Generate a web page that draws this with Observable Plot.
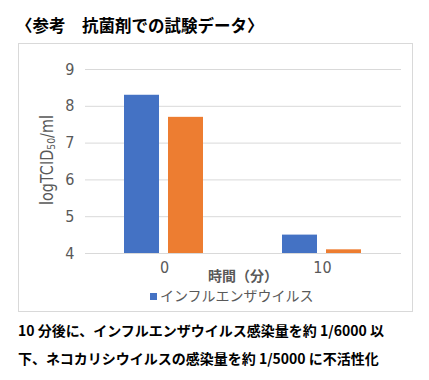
<!DOCTYPE html>
<html>
<head>
<meta charset="utf-8">
<script src="https://cdn.jsdelivr.net/npm/d3@7"></script>
<script src="https://cdn.jsdelivr.net/npm/@observablehq/plot@0.6"></script>
<style>
  html, body { margin: 0; padding: 0; background: #fff; }
  body { width: 429px; height: 380px; position: relative; overflow: hidden; font-family: "Noto Sans CJK JP", sans-serif; }
  #title { position: absolute; left: 16px; top: 12px; font-size: 16.5px; font-weight: bold; color: #000; line-height: 26px; white-space: nowrap; }
  #box { position: absolute; left: 18px; top: 43px; width: 393px; height: 267px; border: 1px solid #d9d9d9; }
  #box svg { display: block; }
  .cap { position: absolute; left: 18px; font-size: 14px; font-weight: bold; color: #000; white-space: nowrap; line-height: 20px; }
</style>
</head>
<body>
<div id="title">〈参考　抗菌剤での試験データ〉</div>
<div id="box"></div>
<div class="cap" style="top:320px">10 分後に、インフルエンザウイルス感染量を約 1/6000 以</div>
<div class="cap" style="top:348px">下、ネコカリシウイルスの感染量を約 1/5000 に不活性化</div>
<script>
const times = ["0", "10"];
const seriesNames = ["インフルエンザウイルス", "ネコカリシウイルス"];
const influenza = [8.3, 4.5];
const calici = [7.7, 4.1];
const colors = ["#4472C4", "#ED7D31"];
const yTicks = [4, 5, 6, 7, 8, 9];
const yBase = 4;
const xTitle = "時間（分）";

const data = [];
times.forEach((t, i) => {
  data.push({time: t, series: seriesNames[0], value: influenza[i]});
  data.push({time: t, series: seriesNames[1], value: calici[i]});
});

const W = 393, H = 266;
const mL = 66, mR = 11, mT = 25, mB = 57;
const numFont = "'DejaVu Sans Condensed','Liberation Sans',sans-serif";

const chart = Plot.plot({
  width: W, height: H,
  marginLeft: mL, marginRight: mR, marginTop: mT, marginBottom: mB,
  style: {fontFamily: numFont, fontSize: "16px", color: "#595959", background: "transparent"},
  fx: {domain: times, padding: 0, label: null, tickSize: 0, tickPadding: 8, axis: "bottom"},
  x: {domain: seriesNames, paddingInner: 0.2, paddingOuter: 0.856, axis: null},
  y: {domain: [4, 9], ticks: yTicks, tickFormat: d3.format("d"), tickSize: 0, tickPadding: 11, label: null},
  color: {domain: seriesNames, range: colors},
  marks: [
    Plot.gridY(yTicks, {stroke: "#d9d9d9", strokeOpacity: 1}),
    Plot.barY(data, {fx: "time", x: "series", y1: () => yBase, y2: "value", fill: "series"})
  ]
});
document.getElementById("box").appendChild(chart);

const svg = d3.select(chart);
// y-axis label with subscript
const yg = svg.append("g")
  .attr("transform", `translate(29,${mT + (H - mT - mB) / 2 - 1}) rotate(-90)`);
const yl = yg.append("text")
  .attr("text-anchor", "middle")
  .attr("dominant-baseline", "middle")
  .attr("fill", "#595959")
  .style("font-family", numFont)
  .style("font-size", "17px");
yl.append("tspan").text("logTCID");
yl.append("tspan").attr("dy", 4).style("font-size", "11px").text("50");
yl.append("tspan").attr("dy", -4).text("/ml");
const len = yl.node().getComputedTextLength();
if (len > 0) yl.attr("transform", `scale(${90 / len},1)`);

// x-axis title
svg.append("text")
  .attr("x", mL + (W - mL - mR) / 2)
  .attr("y", 233)
  .attr("text-anchor", "middle")
  .attr("dominant-baseline", "middle")
  .attr("fill", "#595959")
  .style("font-family", "'Noto Sans CJK JP',sans-serif")
  .style("font-size", "14px")
  .style("font-weight", "bold")
  .text(xTitle);

// legend (first series only, as in reference)
const lg = svg.append("g").attr("transform", "translate(131,253)");
lg.append("rect").attr("x", 0).attr("y", -4).attr("width", 7).attr("height", 7).attr("fill", colors[0]);
lg.append("text").attr("x", 10).attr("y", 0)
  .attr("text-anchor", "start")
  .attr("dominant-baseline", "middle")
  .attr("fill", "#595959")
  .style("font-family", "'Noto Sans CJK JP',sans-serif")
  .style("font-size", "14px")
  .text(seriesNames[0]);
</script>
</body>
</html>
